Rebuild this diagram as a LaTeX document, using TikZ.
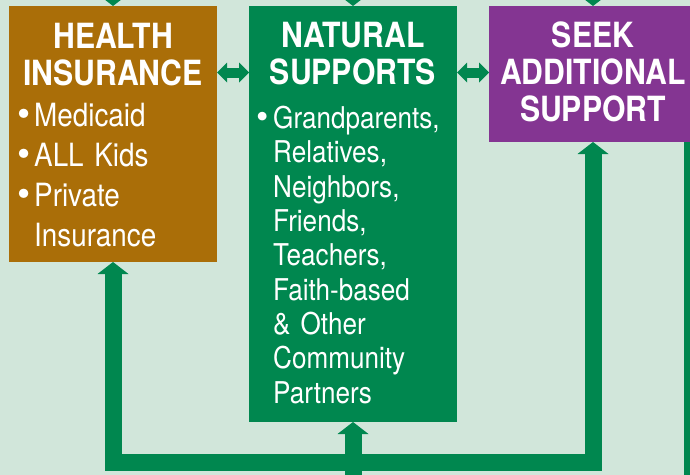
\documentclass[tikz,border=0pt]{standalone}
\usepackage{fontspec}
\setmainfont{TeX Gyre Heros}[FakeStretch=0.87]
\usetikzlibrary{arrows.meta,positioning}
\definecolor{brownbox}{HTML}{AA6E08}
\definecolor{greenbox}{HTML}{00874F}
\definecolor{purplebox}{HTML}{843592}
\definecolor{bgdark}{HTML}{D1E6DA}
\definecolor{bglight}{HTML}{DDEDE5}
\tikzset{
  bighead/.tip={Triangle[width=31pt,length=12pt,line width=0pt]},
  smallhead/.tip={Triangle[width=20pt,length=10pt,line width=0pt]},
  box/.style={inner sep=0pt, outer sep=0pt, minimum width=208pt, anchor=north west},
  title/.style={text=white, inner sep=0pt, anchor=north, align=center,
    font=\fontsize{34.7}{37}\selectfont\bfseries},
  items/.style={text=white, inner sep=0pt, anchor=north west, align=left, text width=180pt},
  bar/.style={draw=greenbox, line width=17pt},
  link/.style={draw=greenbox, line width=10pt, smallhead-smallhead},
}
\newcommand{\itm}{\leavevmode\llap{\scalebox{1.35}[1.15]{\textbullet}\hspace{4pt}}}
\begin{document}
\begin{tikzpicture}[x=1pt, y=-1pt]
  \useasboundingbox (0,0) rectangle (690,474);
  \clip (0,0) rectangle (690,474);
  \fill[left color=bgdark, middle color=bglight, right color=bgdark] (0,0) rectangle (690,474);

  \node[box, fill=brownbox, minimum height=256pt] (health) at (9,6) {};
  \node[box, fill=greenbox, minimum height=416pt] (natural) at (249,6) {};
  \node[box, fill=purplebox, minimum height=136pt] (seek) at (489,6) {};

  \node[title] (healthtitle) at ([yshift=-17pt]health.north) {HEALTH\\INSURANCE};
  \node[title] (naturaltitle) at ([yshift=-16pt]natural.north) {NATURAL\\SUPPORTS};
  \node[title] (seektitle) at ([yshift=-16pt]seek.north) {SEEK\\ADDITIONAL\\SUPPORT};

  \node[items, font=\fontsize{32}{40}\selectfont] (healthlist)
    at ([xshift=25pt,yshift=-97pt]health.north west)
    {\itm Medicaid\\ \itm ALL Kids\\ \itm Private\\ Insurance};
  \node[items, font=\fontsize{30}{34.3}\selectfont] (naturallist)
    at ([xshift=24pt,yshift=-100pt]natural.north west)
    {\itm Grandparents,\\ Relatives,\\ Neighbors,\\ Friends,\\ Teachers,\\
     Faith-based\\ \& Other\\ Community\\ Partners};

  \coordinate (hub) at (353,462.5);
  \coordinate (feed) at (353,480);
  \coordinate (offright) at (692.5,480);

  \draw[bar, bighead-bighead] (health.south) |- (hub) -| (seek.south);
  \draw[bar, -bighead] (feed) -- (natural.south);
  \draw[bar] (seek.south east -| offright) -- (offright);

  \draw[bar, -bighead] ([yshift=30pt]health.north) -- (health.north);
  \draw[bar, -bighead] ([yshift=30pt]natural.north) -- (natural.north);
  \draw[bar, -bighead] ([yshift=30pt]seek.north) -- (seek.north);

  \draw[link] ([yshift=-66.5pt]health.north east) -- ([yshift=-66.5pt]natural.north west);
  \draw[link] ([yshift=-66.5pt]natural.north east) -- ([yshift=-66.5pt]seek.north west);
\end{tikzpicture}
\end{document}
